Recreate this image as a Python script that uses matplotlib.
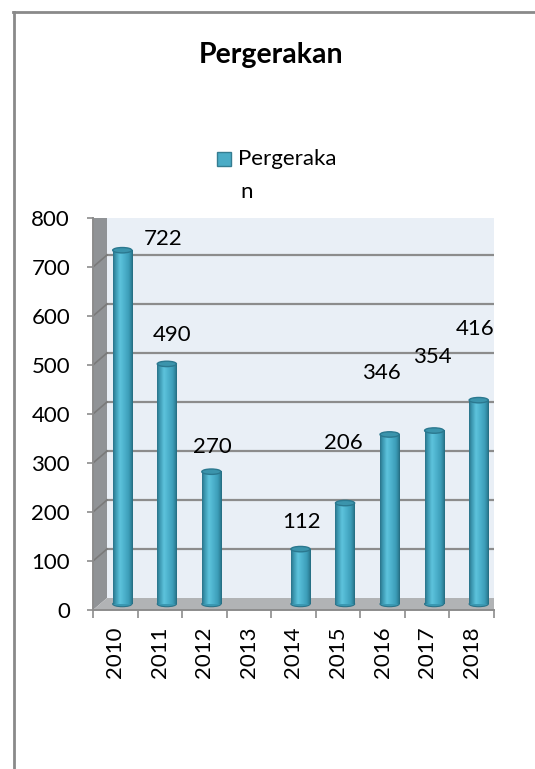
import numpy as np
import matplotlib
matplotlib.use("Agg")
import matplotlib.pyplot as plt
import matplotlib.transforms as mtrans
from matplotlib.patches import Polygon, Ellipse, Rectangle
from matplotlib.colors import LinearSegmentedColormap
from matplotlib.lines import Line2D

# ---------------- data ----------------
years = ["2010", "2011", "2012", "2013", "2014", "2015", "2016", "2017", "2018"]
values = [722, 490, 270, None, 112, 206, 346, 354, 416]
series_name = "Pergerakan"
title_text = "Pergerakan"
yticks = [0, 100, 200, 300, 400, 500, 600, 700, 800]
# data-label offsets (pixels) relative to each cylinder top, as placed in the original
label_dx = [41, 5, 1, 0, 1, -2, -8, -2, -4]
label_dy = [11, 29, 25, 0, 27, 60, 61, 74, 71]

FONT = ["Lato", "DejaVu Sans"]
plt.rcParams['font.family'] = FONT
FS = 16

W, H, DPI = 535, 769, 100
fig = plt.figure(figsize=(W / DPI, H / DPI), dpi=DPI)
fig.patch.set_facecolor("white")

# front-axis placement (pixels)
x0, x1 = 93, 494
y_top, y_bot = 218, 610
ax = fig.add_axes([x0 / W, 1 - y_bot / H, (x1 - x0) / W, (y_bot - y_top) / H])
ax.set_xlim(-0.5, 8.5)
ax.set_ylim(0, 800)
ax.patch.set_visible(False)

DX, DY = 14, 12  # depth offset in pixels
back = mtrans.ScaledTranslation(DX / DPI, DY / DPI, fig.dpi_scale_trans)
half = mtrans.ScaledTranslation(DX / 2 / DPI, DY / 2 / DPI, fig.dpi_scale_trans)
tb = ax.transData + back
th = ax.transData + half

def disp(x, y, off=(0, 0)):
    p = ax.transData.transform((x, y))
    return (p[0] + off[0], p[1] + off[1])

ident = mtrans.IdentityTransform()

# back wall
ax.add_patch(Rectangle((-0.5, 0), 9, 800, transform=tb, facecolor="#E9EFF6",
                       edgecolor="none", zorder=0))
# side wall
side = [disp(-0.5, 0), disp(-0.5, 800), disp(-0.5, 800, (DX, DY)), disp(-0.5, 0, (DX, DY))]
ax.add_patch(Polygon(side, closed=True, transform=ident, facecolor="#909396",
                     edgecolor="none", zorder=0.5))
# floor
floor = [disp(-0.5, 0), disp(8.5, 0), disp(8.5, 0, (DX, DY)), disp(-0.5, 0, (DX, DY))]
ax.add_patch(Polygon(floor, closed=True, transform=ident, facecolor="#B1B3B5",
                     edgecolor="none", zorder=0.5))
# gridlines on back wall + side wall
for t in yticks[1:]:
    ax.plot([-0.5, 8.5], [t, t], transform=tb, color="#8C8C8C", lw=1.6, zorder=1)
    a = disp(-0.5, t); b = disp(-0.5, t, (DX, DY))
    ax.add_line(Line2D([a[0], b[0]], [a[1], b[1]], transform=ident, color="#7A7A7A",
                       lw=1.2, zorder=1))
# floor right diagonal edge
a = disp(8.5, 0); b = disp(8.5, 0, (DX, DY))
ax.add_line(Line2D([a[0], b[0]], [a[1], b[1]], transform=ident, color="#8C8C8C", lw=1.4, zorder=1))

# ---------------- cylinders ----------------
cmap = LinearSegmentedColormap.from_list("cyl", [
    (0.0, "#2A7389"), (0.12, "#3A95AE"), (0.35, "#5DC3DC"), (0.55, "#4EB3CE"),
    (0.8, "#3C9DB8"), (0.92, "#2F849C"), (1.0, "#246A7E")])
grad = np.linspace(0, 1, 64).reshape(1, -1)
bw = 0.43
eh = 11  # ellipse height in data units
for i, v in enumerate(values):
    if v is None:
        continue
    im = ax.imshow(grad, cmap=cmap, aspect="auto", interpolation="bilinear",
                   extent=(i - bw / 2, i + bw / 2, 0, v), zorder=2)
    im.set_transform(th)
    ax.add_patch(Ellipse((i, 0), bw, eh, transform=th, facecolor="#3A98B2",
                         edgecolor="#2A7389", lw=0.8, zorder=1.9))
    ax.add_patch(Ellipse((i, v), bw, eh, transform=th, facecolor="#3B94AC",
                         edgecolor="#2B788F", lw=1.0, zorder=3))
    ax.annotate(str(v), xy=(i, v), xycoords=th,
                xytext=(label_dx[i], label_dy[i]), textcoords="offset pixels",
                ha="center", va="center", fontsize=FS, color="black", zorder=5)

ax.set_xlim(-0.5, 8.5)
ax.set_ylim(0, 800)

# ---------------- axes ----------------
for s in ["top", "right"]:
    ax.spines[s].set_visible(False)
ax.spines["left"].set_color("#8C8C8C")
ax.spines["left"].set_linewidth(1.4)
ax.spines["bottom"].set_color("#8C8C8C")
ax.spines["bottom"].set_linewidth(1.4)
ax.set_yticks(yticks)
ax.set_yticklabels([str(t) for t in yticks])
ax.tick_params(axis="y", length=4.5, width=1.2, color="#8C8C8C", pad=12,
               labelsize=FS, labelcolor="black")
ax.set_xticks(range(len(years)))
ax.set_xticklabels(years, rotation=90)
ax.tick_params(axis="x", which="major", length=0, pad=12, labelsize=FS, labelcolor="black")
ax.set_xticks(np.arange(-0.5, 9.0, 1.0), minor=True)
ax.tick_params(axis="x", which="minor", length=6, width=1.2, color="#8C8C8C")

# ---------------- title / legend / frame ----------------
fig.text(271 / W, 1 - 55 / H, title_text, ha="center", va="center",
         fontsize=20.5, fontweight="bold", color="black")
fig.patches.append(Rectangle((217 / W, 1 - 166 / H), 14 / W, 14 / H,
                             transform=fig.transFigure, facecolor="#4BACC6",
                             edgecolor="#357D91", lw=1.0))
fig.text(238 / W, 1 - 159 / H, series_name[:-1], ha="left", va="center",
         fontsize=FS, color="black")
fig.text(240 / W, 1 - 192 / H, series_name[-1], ha="left", va="center",
         fontsize=FS, color="black")
fig.lines.append(Line2D([14 / W, 14 / W], [0, 1 - 12 / H], transform=fig.transFigure,
                        color="#8A8A8A", lw=2))
fig.lines.append(Line2D([13 / W, 1], [1 - 12 / H, 1 - 12 / H], transform=fig.transFigure,
                        color="#8A8A8A", lw=2))

fig.savefig("out.png", dpi=DPI)
